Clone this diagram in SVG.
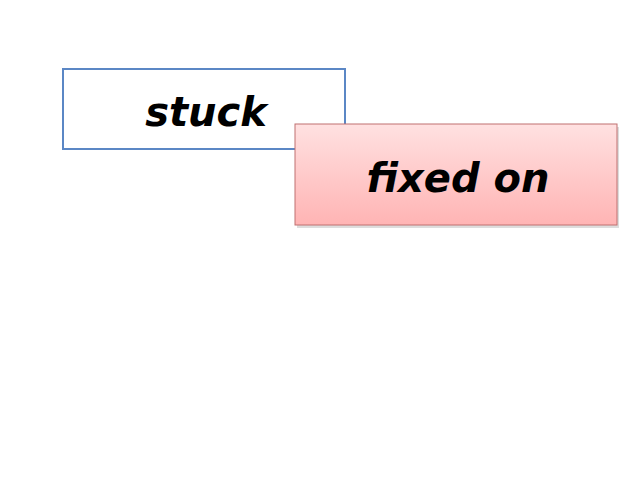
<svg xmlns="http://www.w3.org/2000/svg" width="640" height="480" viewBox="0 0 640 480">
<defs>
<linearGradient id="pg" x1="0" y1="0" x2="0" y2="1"><stop offset="0" stop-color="#ffe1e1"/><stop offset="1" stop-color="#ffb4b4"/></linearGradient>
<style>.t{font-family:"DejaVu Sans",sans-serif;font-weight:bold;font-style:italic;font-size:40px;text-anchor:middle}</style>
</defs>
<rect width="640" height="480" fill="#fff"/>
<g id="stuck"><rect x="63" y="69" width="282" height="80" fill="#fff" stroke="#5b87c5" stroke-width="2"/><text class="t" x="206" y="126">stuck</text></g>
<g id="fixed"><rect x="297" y="127" width="322" height="101" fill="#bbb" opacity="0.5"/><rect x="295" y="124" width="322" height="101" fill="url(#pg)" stroke="#c07070" stroke-width="1"/><text class="t" x="458" y="192">fixed on</text></g>
<g id="connectors"/>
</svg>
